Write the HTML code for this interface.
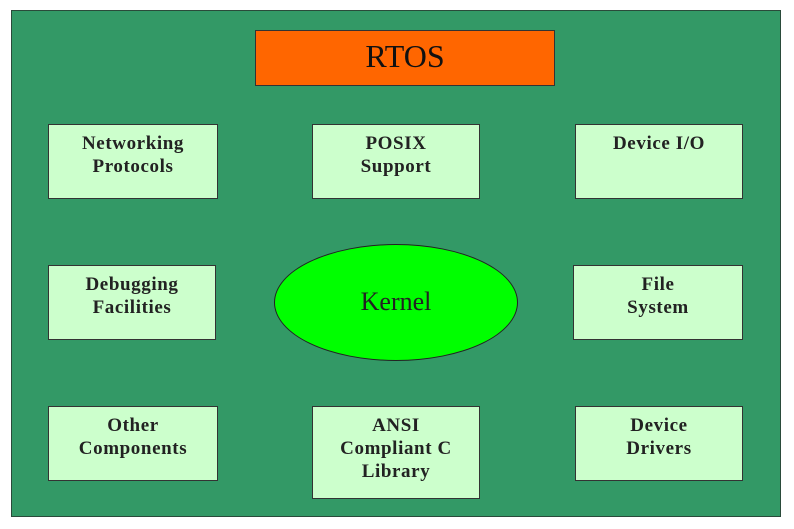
<!DOCTYPE html>
<html><head><style>
body{margin:0;width:794px;height:529px;background:#fff;position:relative;overflow:hidden;font-family:"Liberation Serif",serif}
.f{position:absolute;left:11px;top:10px;width:768px;height:505px;background:#339966;border:1px solid #2a4a3a}
.b{position:absolute;background:#ccffcc;border:1px solid #333;text-align:center;font-size:19px;font-weight:bold;color:#222;line-height:23px;box-sizing:border-box;padding-top:7px;letter-spacing:0.6px}
.r{position:absolute;left:255px;top:30px;width:300px;height:56px;background:#ff6600;border:1px solid #333;box-sizing:border-box;text-align:center;font-size:32px;line-height:50px;color:#111}
.e{position:absolute;left:274px;top:244px;width:244px;height:117px;border-radius:50%;background:#00ff00;border:1px solid #222;box-sizing:border-box;text-align:center;line-height:113px;font-size:26px;color:#222}
</style></head><body>
<div class="f"></div>
<div class="r">RTOS</div>
<div class="b" style="left:48px;top:124px;width:170px;height:75px">Networking<br>Protocols</div>
<div class="b" style="left:312px;top:124px;width:168px;height:75px">POSIX<br>Support</div>
<div class="b" style="left:575px;top:124px;width:168px;height:75px">Device I/O</div>
<div class="b" style="left:48px;top:265px;width:168px;height:75px">Debugging<br>Facilities</div>
<div class="b" style="left:573px;top:265px;width:170px;height:75px">File<br>System</div>
<div class="b" style="left:48px;top:406px;width:170px;height:75px">Other<br>Components</div>
<div class="b" style="left:312px;top:406px;width:168px;height:93px">ANSI<br>Compliant C<br>Library</div>
<div class="b" style="left:575px;top:406px;width:168px;height:75px">Device<br>Drivers</div>
<div class="e">Kernel</div>
</body></html>
